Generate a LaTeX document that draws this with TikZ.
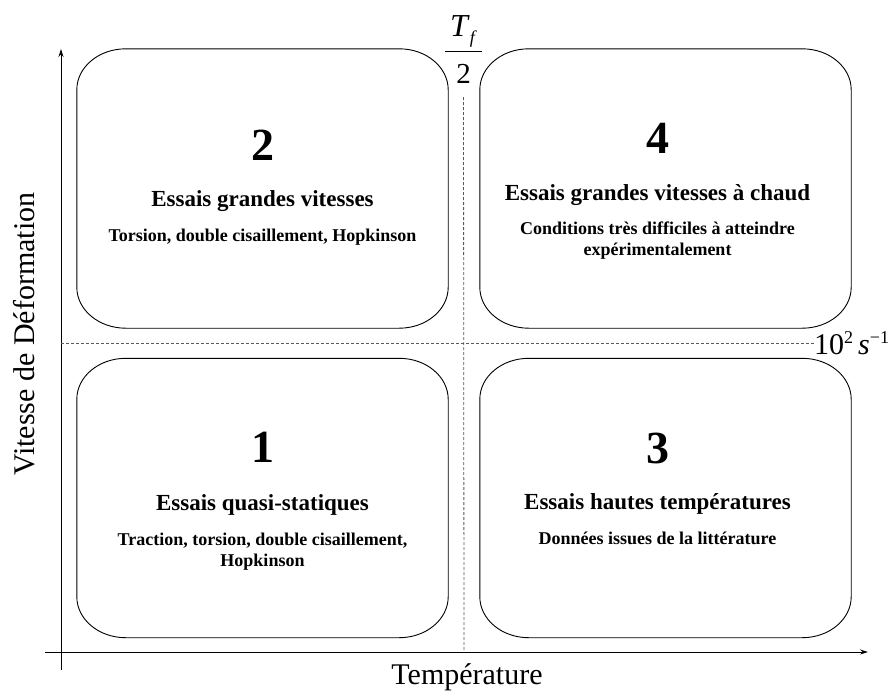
\documentclass[tikz,border=0pt]{standalone}
\usepackage{fontspec}
\setmainfont{Liberation Serif}
\usetikzlibrary{arrows.meta}
\newcommand\quadbox[1]{%
  \draw[boxline] ([xshift=49pt]#1.north west) -- ([xshift=-49pt]#1.north east)
    arc[start angle=90,end angle=0,x radius=49pt,y radius=41pt]
    -- ([yshift=41pt]#1.south east)
    arc[start angle=0,end angle=-90,x radius=49pt,y radius=41pt]
    -- ([xshift=49pt]#1.south west)
    arc[start angle=270,end angle=180,x radius=49pt,y radius=41pt]
    -- ([yshift=-41pt]#1.north west)
    arc[start angle=180,end angle=90,x radius=49pt,y radius=41pt] -- cycle;}
\tikzset{
  boxline/.style={line width=0.9pt},
  region/.style={minimum width=371pt,minimum height=279pt,inner sep=0pt,draw=none},
  digit/.style={anchor=base,inner sep=0pt,font=\fontsize{46}{46}\selectfont\bfseries},
  title/.style={anchor=base,inner sep=0pt,font=\fontsize{23}{26}\selectfont\bfseries},
  sub/.style={anchor=base,inner sep=0pt,font=\fontsize{18}{21}\selectfont\bfseries},
  axislabel/.style={inner sep=0pt,font=\fontsize{30}{30}\selectfont},
  axisline/.style={line width=0.8pt},
  guide/.style={line width=0.8pt,dash pattern=on 3pt off 2pt,black!65}
}
\begin{document}
\begin{tikzpicture}[x=1pt,y=-1pt]
\useasboundingbox (0,0) rectangle (891,691);
% regions
\node[region] (b2) at (262.5,188.5) {};
\node[region] (b4) at (665.5,188.5) {};
\node[region] (b1) at (262.5,498) {};
\node[region] (b3) at (665.5,498) {};
\quadbox{b2}\quadbox{b4}\quadbox{b1}\quadbox{b3}
% box 2
\node[digit] (d2) at (262.5,160) {2};
\node[title] (t2) at (262.5,206) {Essais grandes vitesses};
\node[sub] (s2) at (262.5,241) {Torsion, double cisaillement, Hopkinson};
% box 4
\node[digit] (d4) at (657.5,153) {4};
\node[title] (t4) at (657.5,200) {Essais grandes vitesses à chaud};
\node[sub] (s4a) at (657.5,234) {Conditions très difficiles à atteindre};
\node[sub] (s4b) at (657.5,255) {expérimentalement};
% box 1
\node[digit] (d1) at (262.5,462) {1};
\node[title] (t1) at (262.5,510) {Essais quasi-statiques};
\node[sub] (s1a) at (262.5,545) {Traction, torsion, double cisaillement,};
\node[sub] (s1b) at (262.5,566) {Hopkinson};
% box 3
\node[digit] (d3) at (657.5,463) {3};
\node[title] (t3) at (657.5,509) {Essais hautes températures};
\node[sub] (s3) at (657.5,544) {Données issues de la littérature};
% axes
\coordinate (ybot) at (61,670);
\coordinate (ytop) at (61,49);
\coordinate (xleft) at (45,652);
\coordinate (xright) at (868,652);
\coordinate (xmid) at (464,652);
\coordinate (yaxis) at (61,343);
\draw[axisline,-{Stealth[length=8pt,width=5pt]}] (ybot) -- (ytop);
\draw[axisline,-{Stealth[length=8pt,width=5pt]}] (xleft) -- (xright);
\node[axislabel,rotate=90] (vlab) at (24,334) {Vitesse de Déformation};
\node[axislabel,anchor=base] (hlab) at (467,684) {Température};
% fraction Tf/2
\node[anchor=base,inner sep=0pt,font=\fontsize{32}{32}\selectfont] (tf) at (463.5,36)
  {\textit{T}\raisebox{-7pt}{\fontsize{18}{18}\selectfont\textit{f}}};
\coordinate (barl) at (445,51);
\coordinate (barr) at (482,51);
\draw[line width=0.9pt] (barl) -- (barr);
\node[anchor=base,inner sep=0pt,font=\fontsize{29}{29}\selectfont] (two) at (463.5,83) {2};
% rate label
\node[anchor=base west,inner sep=0pt,font=\fontsize{30}{30}\selectfont] (rate) at (814,354)
  {10\raisebox{11pt}{\fontsize{18}{18}\selectfont 2}\,\textit{s}\raisebox{11pt}{\fontsize{18}{18}\selectfont −1}};
% guides
\draw[guide] (yaxis) -- (yaxis -| rate.west);
\draw[guide] (two.south |- 0,97) -- (xmid);
\end{tikzpicture}
\end{document}
